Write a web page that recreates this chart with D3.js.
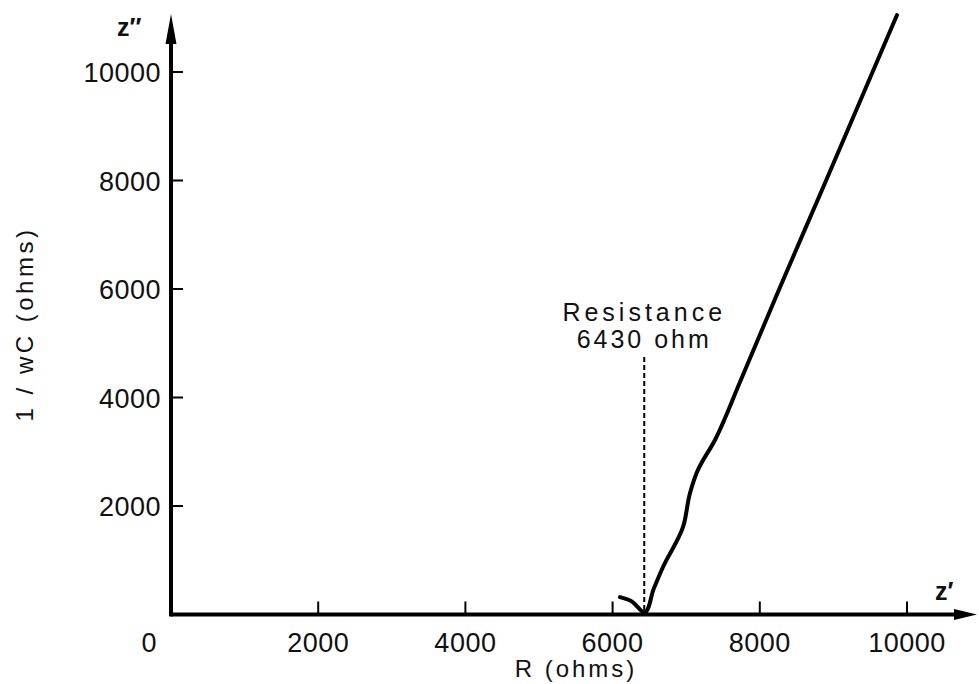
<!DOCTYPE html>
<html>
<head>
<meta charset="utf-8">
<script src="https://cdn.jsdelivr.net/npm/d3@7"></script>
<style>
  body { margin: 0; background: #fff; }
  text { font-family: "Liberation Sans", Arial, sans-serif; fill: #111; }
</style>
</head>
<body>
<div id="chart"></div>
<script>
// impedance curve (R vs 1/wC, ohms)
var curveR = [6100, 6250, 6430, 6560, 6685, 6957, 7052, 7147, 7391, 7731, 8247, 8886, 9864];
var curveX = [320, 250, 40, 480, 876, 1613, 2240, 2627, 3217, 4286, 5945, 7954, 11050];
var xTicks = [2000, 4000, 6000, 8000, 10000];
var yTicks = [2000, 4000, 6000, 8000, 10000];
var resistance = 6430;

var width = 979, height = 684;

var x = d3.scaleLinear().domain([0, 10000]).range([171, 907]);
var y = d3.scaleLinear().domain([0, 10000]).range([614.5, 72]);

var svg = d3.select("#chart").append("svg")
  .attr("width", width)
  .attr("height", height);

// axes lines
svg.append("line")
  .attr("x1", x(0)).attr("x2", 958)
  .attr("y1", y(0)).attr("y2", y(0))
  .attr("stroke", "#000").attr("stroke-width", 4);
svg.append("line")
  .attr("x1", x(0)).attr("x2", x(0))
  .attr("y1", y(0) + 2).attr("y2", 40)
  .attr("stroke", "#000").attr("stroke-width", 4);

// arrow heads
svg.append("path")
  .attr("d", "M" + 977 + "," + y(0) + "L" + 954 + "," + (y(0) - 5.5) + "L" + 954 + "," + (y(0) + 5.5) + "Z")
  .attr("fill", "#000");
svg.append("path")
  .attr("d", "M" + x(0) + ",14L" + (x(0) - 5.5) + ",44L" + (x(0) + 5.5) + ",44Z")
  .attr("fill", "#000");

// x ticks (pointing up) and labels
svg.selectAll(".xt").data(xTicks).enter().append("line")
  .attr("x1", function(d) { return x(d); })
  .attr("x2", function(d) { return x(d); })
  .attr("y1", y(0)).attr("y2", y(0) - 13)
  .attr("stroke", "#000").attr("stroke-width", 2);
svg.selectAll(".xl").data(xTicks).enter().append("text")
  .attr("x", function(d) { return x(d); })
  .attr("y", 652)
  .attr("text-anchor", "middle")
  .attr("font-size", 27)
  .attr("letter-spacing", 0.5)
  .text(function(d) { return d; });
svg.append("text")
  .attr("x", 149).attr("y", 652)
  .attr("text-anchor", "middle")
  .attr("font-size", 27)
  .text("0");

// y ticks (pointing right) and labels
svg.selectAll(".yt").data(yTicks).enter().append("line")
  .attr("x1", x(0)).attr("x2", x(0) + 12)
  .attr("y1", function(d) { return y(d); })
  .attr("y2", function(d) { return y(d); })
  .attr("stroke", "#000").attr("stroke-width", 2);
svg.selectAll(".yl").data(yTicks).enter().append("text")
  .attr("x", 161)
  .attr("y", function(d) { return y(d) + 10; })
  .attr("text-anchor", "end")
  .attr("font-size", 27)
  .attr("letter-spacing", 0.5)
  .text(function(d) { return d; });

// axis titles
svg.append("text")
  .attr("x", 576).attr("y", 677)
  .attr("text-anchor", "middle")
  .attr("font-size", 24)
  .attr("letter-spacing", 3)
  .text("R (ohms)");
svg.append("text")
  .attr("transform", "translate(33,324) rotate(-90)")
  .attr("text-anchor", "middle")
  .attr("font-size", 24)
  .attr("letter-spacing", 3.5)
  .text("1 / wC (ohms)");
svg.append("text")
  .attr("x", 117).attr("y", 36)
  .attr("font-size", 25)
  .attr("font-weight", "bold")
  .text("z\u2033");
svg.append("text")
  .attr("x", 935).attr("y", 600)
  .attr("font-size", 25)
  .attr("font-weight", "bold")
  .text("z\u2032");

// resistance marker
svg.append("line")
  .attr("x1", x(resistance)).attr("x2", x(resistance))
  .attr("y1", 357).attr("y2", y(0) - 4)
  .attr("stroke", "#000").attr("stroke-width", 2)
  .attr("stroke-dasharray", "5,3");
svg.append("text")
  .attr("x", x(resistance)).attr("y", 321)
  .attr("text-anchor", "middle")
  .attr("font-size", 25)
  .attr("letter-spacing", 4)
  .text("Resistance");
svg.append("text")
  .attr("x", x(resistance)).attr("y", 348)
  .attr("text-anchor", "middle")
  .attr("font-size", 25)
  .attr("letter-spacing", 3)
  .text("6430 ohm");

// curve
var pts = curveR.map(function(r, i) { return [r, curveX[i]]; });
var line = d3.line()
  .x(function(d) { return x(d[0]); })
  .y(function(d) { return y(d[1]); })
  .curve(d3.curveCatmullRom.alpha(1));
svg.append("path")
  .datum(pts)
  .attr("d", line)
  .attr("fill", "none")
  .attr("stroke", "#000")
  .attr("stroke-width", 4)
  .attr("stroke-linecap", "round")
  .attr("stroke-linejoin", "round");
</script>
</body>
</html>
